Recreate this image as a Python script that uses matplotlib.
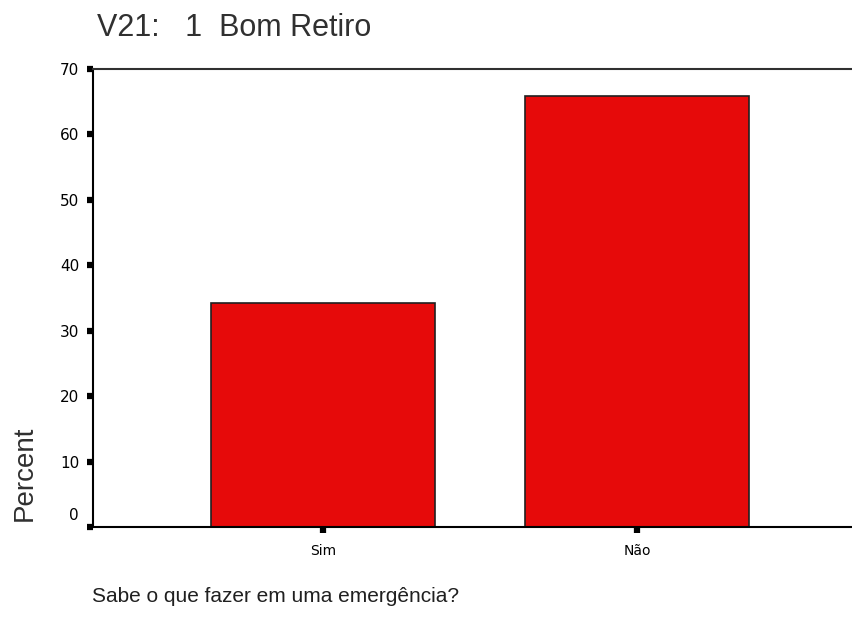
import matplotlib
matplotlib.use("Agg")
import matplotlib.pyplot as plt
import matplotlib.transforms as mtransforms
import numpy as np

categories = ["Sim", "Não"]
percent = [34.2, 65.8]
yticks = [0, 10, 20, 30, 40, 50, 60, 70]

plt.rcParams['font.family'] = ['Liberation Sans', 'DejaVu Sans']

fig = plt.figure(figsize=(8.52, 6.29), dpi=100)
ax = fig.add_axes([93 / 852, 102 / 629, 1 - 93 / 852, 458 / 629])

x = np.arange(len(categories))
ax.bar(x, percent, width=0.713, color='#e60a0a', edgecolor='#202020', linewidth=1.2)

ax.set_xlim(-0.7325, 1.685)
ax.set_ylim(0, 70)
ax.set_yticks(yticks)
ax.set_yticklabels([str(v) for v in yticks], fontsize=11, family=['DejaVu Sans'])
ax.set_xticks(x)
ax.set_xticklabels(categories, fontsize=10, family=['DejaVu Sans'])

ax.tick_params(axis='y', direction='out', length=4, width=4.5, pad=6)
ax.tick_params(axis='x', direction='out', length=4, width=4.5, pad=8)

# the zero label sits a bit above its tick in the original
lbl0 = ax.get_yticklabels()[0]
lbl0.set_transform(lbl0.get_transform() + mtransforms.ScaledTranslation(0, 13 / 100, fig.dpi_scale_trans))

for side in ['left', 'bottom', 'top']:
    ax.spines[side].set_linewidth(1.5)
    ax.spines[side].set_color('black')
ax.spines['top'].set_color('#303030')
ax.spines['right'].set_visible(False)

fig.text(97 / 852, 1 - 28 / 629, "V21:   1  Bom Retiro", fontsize=22, color='#303030',
         va='center', ha='left')
fig.text(25 / 852, 1 - 473 / 629, "Percent", fontsize=20, rotation=90,
         va='center', ha='center', color='#303030')
fig.text(92 / 852, 1 - 596 / 629, "Sabe o que fazer em uma emergência?", fontsize=15,
         va='center', ha='left', color='#202020')

fig.savefig('out.png', dpi=100)
